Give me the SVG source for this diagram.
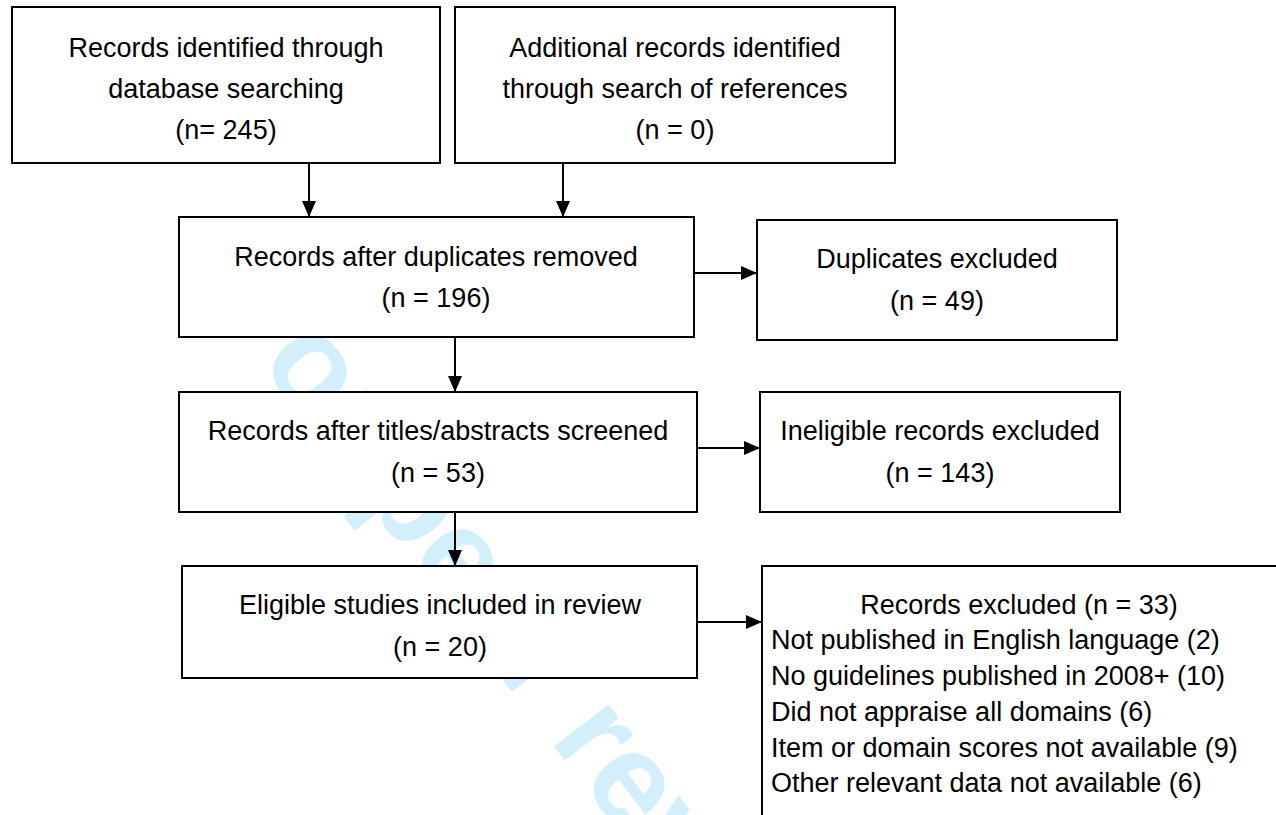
<svg xmlns="http://www.w3.org/2000/svg" width="1276" height="815" viewBox="0 0 1276 815">
<style>
.box{fill:#fff;stroke:#000;stroke-width:2}
.t{font-family:"Liberation Sans",Arial,sans-serif;font-size:27px;fill:#000;text-anchor:middle}
.l{text-anchor:start}
.c{stroke:#000;stroke-width:2;fill:none}
.wm{font-family:"Liberation Sans",Arial,sans-serif;font-weight:bold;font-size:130px;fill:#d4effc}
</style>
<defs>
<marker id="ah" viewBox="0 0 16 14" refX="16" refY="7" markerWidth="16" markerHeight="14" markerUnits="userSpaceOnUse" orient="auto">
<path d="M0,0 L16,7 L0,14 Z" fill="#000"/>
</marker>
</defs>
<rect width="1276" height="815" fill="#fff"/>
<text class="wm" transform="translate(210,298) rotate(52.5)">For peer review only</text>
<g id="n1"><rect class="box" x="12" y="7" width="428" height="156"/>
<text class="t" x="226" y="57">Records identified through</text>
<text class="t" x="226" y="98">database searching</text>
<text class="t" x="226" y="139">(n= 245)</text></g>
<g id="n2"><rect class="box" x="455" y="7" width="440" height="156"/>
<text class="t" x="675" y="57">Additional records identified</text>
<text class="t" x="675" y="98">through search of references</text>
<text class="t" x="675" y="139">(n = 0)</text></g>
<g id="n3"><rect class="box" x="179" y="217" width="515" height="120"/>
<text class="t" x="436" y="266">Records after duplicates removed</text>
<text class="t" x="436" y="307">(n = 196)</text></g>
<g id="n4"><rect class="box" x="757" y="220" width="360" height="120"/>
<text class="t" x="937" y="268">Duplicates excluded</text>
<text class="t" x="937" y="310">(n = 49)</text></g>
<g id="n5"><rect class="box" x="179" y="392" width="518" height="120"/>
<text class="t" x="438" y="440">Records after titles/abstracts screened</text>
<text class="t" x="438" y="482">(n = 53)</text></g>
<g id="n6"><rect class="box" x="760" y="392" width="360" height="120"/>
<text class="t" x="940" y="440">Ineligible records excluded</text>
<text class="t" x="940" y="482">(n = 143)</text></g>
<g id="n7"><rect class="box" x="182" y="566" width="515" height="112"/>
<text class="t" x="440" y="614">Eligible studies included in review</text>
<text class="t" x="440" y="656">(n = 20)</text></g>
<g id="n8"><rect class="box" x="762" y="566" width="540" height="300"/>
<text class="t" x="1019" y="614">Records excluded (n = 33)</text>
<text class="t l" x="771" y="649">Not published in English language (2)</text>
<text class="t l" x="771" y="685">No guidelines published in 2008+ (10)</text>
<text class="t l" x="771" y="721">Did not appraise all domains (6)</text>
<text class="t l" x="771" y="757">Item or domain scores not available (9)</text>
<text class="t l" x="771" y="792">Other relevant data not available (6)</text></g>
<g id="connectors">
<line class="c" x1="309" y1="163" x2="309" y2="217" marker-end="url(#ah)"/>
<line class="c" x1="563" y1="163" x2="563" y2="217" marker-end="url(#ah)"/>
<line class="c" x1="694" y1="273" x2="757" y2="273" marker-end="url(#ah)"/>
<line class="c" x1="455" y1="337" x2="455" y2="392" marker-end="url(#ah)"/>
<line class="c" x1="697" y1="448" x2="760" y2="448" marker-end="url(#ah)"/>
<line class="c" x1="455" y1="512" x2="455" y2="566" marker-end="url(#ah)"/>
<line class="c" x1="697" y1="622" x2="762" y2="622" marker-end="url(#ah)"/>
</g>
</svg>
